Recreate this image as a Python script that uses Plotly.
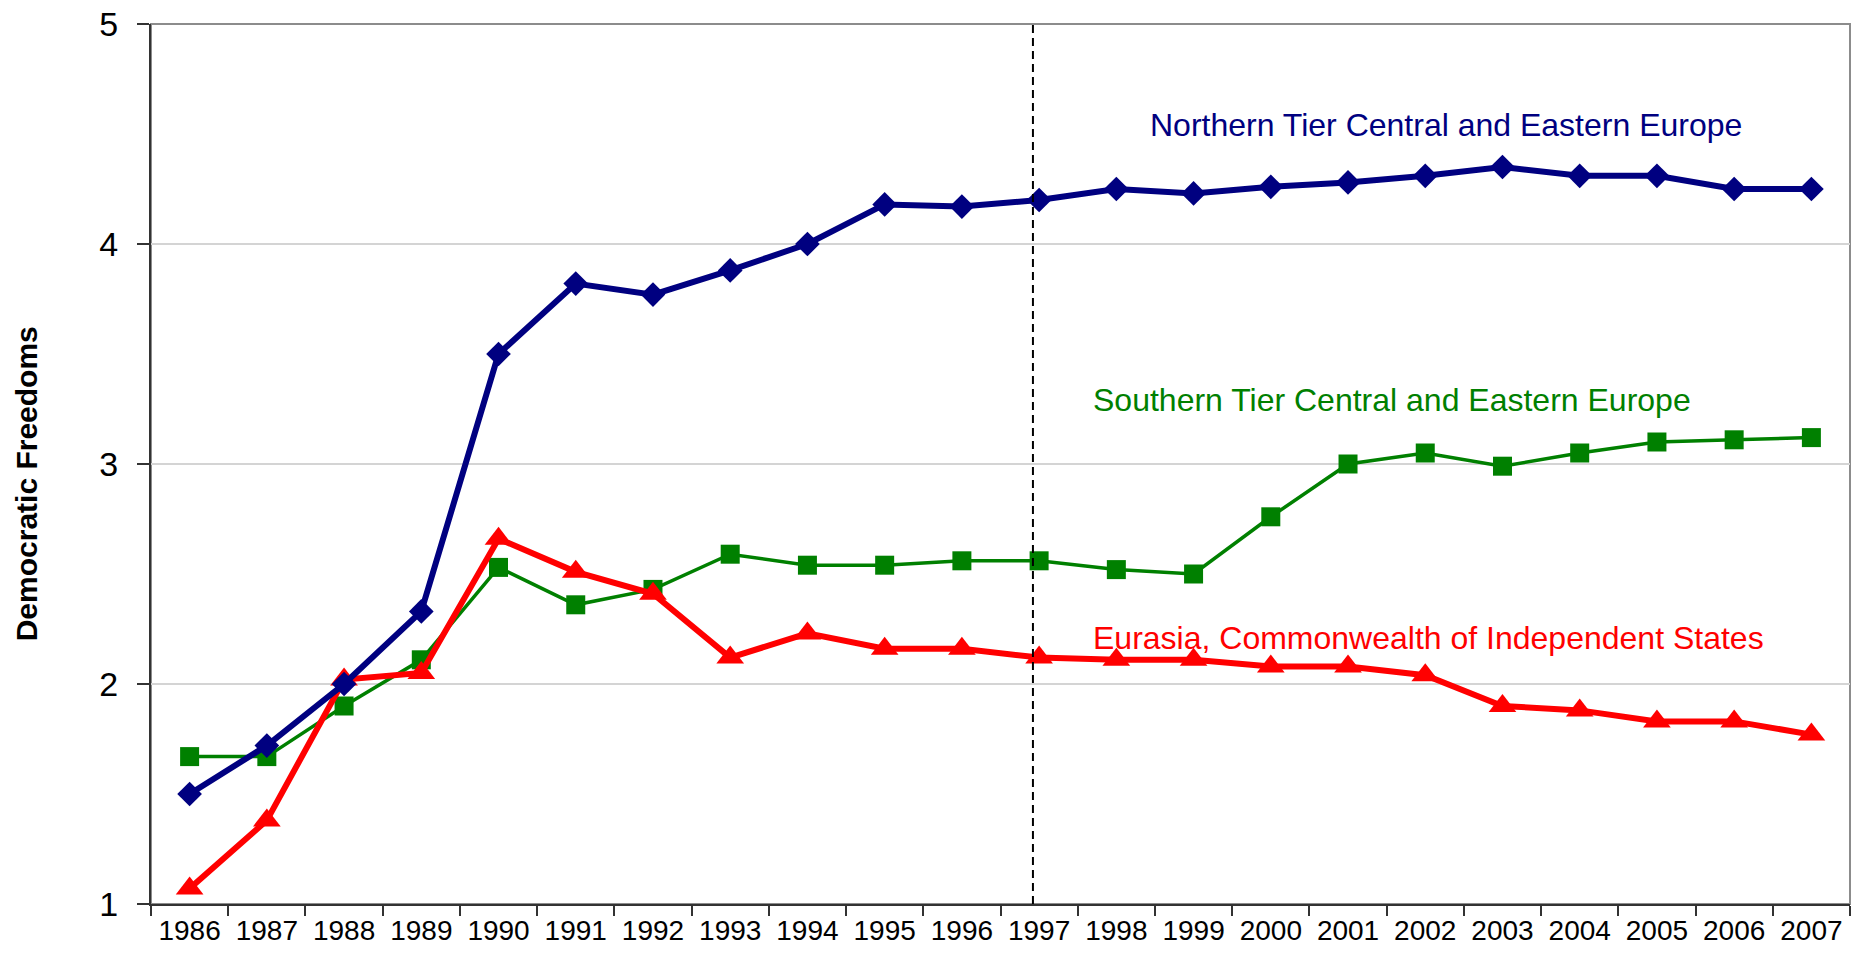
import plotly.graph_objects as go

YEARS = [str(y) for y in range(1986, 2008)]

NORTHERN = [1.50, 1.72, 2.00, 2.33, 3.50, 3.82, 3.77, 3.88, 4.00, 4.18, 4.17,
            4.20, 4.25, 4.23, 4.26, 4.28, 4.31, 4.35, 4.31, 4.31, 4.25, 4.25]
SOUTHERN = [1.67, 1.67, 1.90, 2.11, 2.53, 2.36, 2.43, 2.59, 2.54, 2.54, 2.56,
            2.56, 2.52, 2.50, 2.76, 3.00, 3.05, 2.99, 3.05, 3.10, 3.11, 3.12]
EURASIA = [1.07, 1.38, 2.02, 2.05, 2.66, 2.51, 2.41, 2.12, 2.23, 2.16, 2.16,
           2.12, 2.11, 2.11, 2.08, 2.08, 2.04, 1.90, 1.88, 1.83, 1.83, 1.77]

SERIES_NAMES = ["Northern Tier Central and Eastern Europe",
                "Southern Tier Central and Eastern Europe",
                "Eurasia, Commonwealth of Independent States"]
Y_TICKS = [1, 2, 3, 4, 5]
Y_TITLE = "Democratic Freedoms"
DIVIDER_YEAR = "1997"

FONT = "Liberation Sans, Arial, sans-serif"
NAVY = "#000080"
GREEN = "#008000"
RED = "#FF0000"

fig = go.Figure()

fig.add_trace(go.Scatter(
    x=YEARS, y=SOUTHERN, mode="lines+markers", name=SERIES_NAMES[1],
    line=dict(color=GREEN, width=3.5),
    marker=dict(symbol="square", size=19, color=GREEN)))
fig.add_trace(go.Scatter(
    x=YEARS, y=EURASIA, mode="lines+markers", name=SERIES_NAMES[2],
    line=dict(color=RED, width=6),
    marker=dict(symbol="triangle-up", size=24, color=RED)))
fig.add_trace(go.Scatter(
    x=YEARS, y=NORTHERN, mode="lines+markers", name=SERIES_NAMES[0],
    line=dict(color=NAVY, width=6),
    marker=dict(symbol="diamond", size=19, color=NAVY)))

# plot area border (top/right in gray)
fig.add_shape(type="rect", xref="paper", yref="paper", x0=0, x1=1, y0=0, y1=1,
              line=dict(color="#8c8c8c", width=2), layer="below")

# vertical dashed divider
div_x = YEARS.index(DIVIDER_YEAR) - 0.08
fig.add_shape(type="line", xref="x", yref="paper", x0=div_x, x1=div_x, y0=0, y1=1,
              line=dict(color="black", width=2, dash="8px,5px"))

# series labels
fig.add_annotation(text=SERIES_NAMES[0], x=0.587, xref="paper", y=4.54, yref="y",
                   xanchor="left", yanchor="middle", showarrow=False,
                   font=dict(family=FONT, size=32, color=NAVY))
fig.add_annotation(text=SERIES_NAMES[1], x=0.553, xref="paper", y=3.29, yref="y",
                   xanchor="left", yanchor="middle", showarrow=False,
                   font=dict(family=FONT, size=32, color=GREEN))
fig.add_annotation(text=SERIES_NAMES[2], x=0.553, xref="paper", y=2.21, yref="y",
                   xanchor="left", yanchor="middle", showarrow=False,
                   font=dict(family=FONT, size=32, color=RED))

# y-axis title
fig.add_annotation(text="<b>" + Y_TITLE + "</b>", x=-0.0736, xref="paper", y=0.478,
                   yref="paper", xanchor="center", yanchor="middle", textangle=-90,
                   showarrow=False, font=dict(family=FONT, size=30, color="black"))

fig.update_layout(
    width=1860, height=956,
    margin=dict(l=151, r=10, t=24, b=52, autoexpand=False),
    paper_bgcolor="white", plot_bgcolor="white",
    showlegend=False,
    font=dict(family=FONT, color="black"),
)
fig.update_xaxes(
    type="category", categoryorder="array", categoryarray=YEARS,
    range=[-0.5, len(YEARS) - 0.5], automargin=False,
    showline=True, linecolor="#333333", linewidth=2,
    ticks="outside", tickson="boundaries", ticklen=10, tickwidth=1.5, tickcolor="#333333",
    showgrid=False, tickfont=dict(family=FONT, size=28, color="black"),
    ticklabeloverflow="allow",
)
fig.update_yaxes(
    range=[1, 5], tickvals=Y_TICKS, ticktext=[str(v) for v in Y_TICKS],
    automargin=False,
    showline=True, linecolor="#333333", linewidth=2,
    ticks="outside", ticklen=12, tickwidth=1.5, tickcolor="#333333",
    showgrid=True, gridcolor="#d4d4d4", gridwidth=1.5, zeroline=False,
    tickfont=dict(family=FONT, size=34, color="black"), ticklabelstandoff=12,
    ticklabeloverflow="allow",
)

fig.write_html("out.html",
               config={"displayModeBar": False},
               post_script="document.body.style.margin='0';document.body.style.overflow='hidden';")
